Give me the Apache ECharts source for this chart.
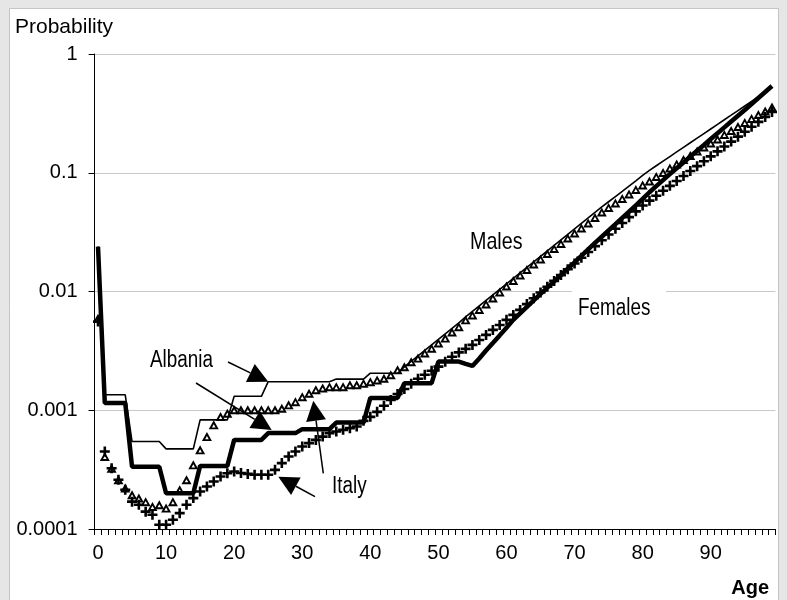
<!DOCTYPE html>
<html>
<head>
<meta charset="utf-8">
<script src="https://cdn.jsdelivr.net/npm/echarts@6/dist/echarts.min.js"></script>
<style>
html,body{margin:0;padding:0;background:#e6e6e6;}
#chart{width:787px;height:600px;}
</style>
</head>
<body>
<div id="chart"></div>
<script>
var ages = ['0','1','2','3','4','5','6','7','8','9','10','11','12','13','14','15','16','17','18','19',
'20','21','22','23','24','25','26','27','28','29','30','31','32','33','34','35','36','37','38','39',
'40','41','42','43','44','45','46','47','48','49','50','51','52','53','54','55','56','57','58','59',
'60','61','62','63','64','65','66','67','68','69','70','71','72','73','74','75','76','77','78','79',
'80','81','82','83','84','85','86','87','88','89','90','91','92','93','94','95','96','97','98','99'];

var yTickLabels = ['0.0001','0.001','0.01','0.1','1'];

// Albania, males (thin line)
var albaniaMales = [0.0239,
0.00135,0.00135,0.00135,0.00135,
0.000545,0.000545,0.000545,0.000545,0.000545,
0.000473,0.000473,0.000473,0.000473,0.000473,
0.00083,0.00083,0.00083,0.00083,0.00083,
0.00131,0.00131,0.00131,0.00131,0.00131,
0.00174,0.00174,0.00174,0.00174,0.00174,0.00174,0.00174,0.00174,0.00174,0.00174,
0.00183,0.00183,0.00183,0.00183,0.00183,
0.00205,0.00205,0.00205,0.00205,0.00205,
0.00232,0.00258,0.00287,0.00319,0.00355,0.00395,0.00440,0.00489,0.00544,0.00611,
0.00680,0.00757,0.00842,0.00936,0.01042,0.01159,0.01289,0.01434,0.01595,0.01775,
0.01975,0.02197,0.02443,0.02719,0.03024,0.03365,0.03743,0.04164,0.04632,0.05153,
0.0570,0.06306,0.06973,0.07713,0.08531,0.09491,0.1046,0.1145,0.1252,0.1369,
0.1497,0.1636,0.1788,0.1955,0.2138,0.2337,0.2555,0.2793,0.3053,0.3339,
0.365,0.399,0.4362,0.477,0.5214];

// Albania, females (thick line)
var albaniaFemales = [0.0239,
0.00115,0.00115,0.00115,0.00115,
0.000334,0.000334,0.000334,0.000334,0.000334,
0.000200,0.000200,0.000200,0.000200,0.000200,
0.000340,0.000340,0.000340,0.000340,0.000340,
0.000563,0.000563,0.000563,0.000563,0.000563,
0.000642,0.000642,0.000642,0.000642,0.000642,
0.000693,0.000693,0.000693,0.000693,0.000693,
0.000788,0.000788,0.000788,0.000788,0.000788,
0.00127,0.00127,0.00127,0.00127,0.00127,
0.00169,0.00169,0.00169,0.00169,0.00169,
0.00257,0.00257,0.00257,0.00257,0.00246,0.00236,
0.00273,0.00318,0.00368,0.00427,0.00496,0.00577,0.00654,0.00742,0.00842,0.00955,
0.01077,0.01216,0.01374,0.01555,0.01758,0.01994,0.02262,0.02566,0.02892,0.03268,
0.03686,0.04164,0.04695,0.05306,0.06018,0.06853,0.07713,0.08664,0.09732,0.1091,
0.1221,0.1369,0.1532,0.1714,0.1925,0.2154,0.2411,0.2698,0.3018,0.3378,
0.3794,0.4262,0.4787,0.5378];

// Italy, males (triangles)
var italyMales = [0.00596,0.000408,0.000325,0.000260,0.000221,0.000194,0.000182,0.000170,0.000155,0.000160,
0.000150,0.000170,0.000214,0.000260,0.000347,0.000464,0.000600,0.000754,0.000885,0.000945,
0.00101,0.00101,0.00101,0.00101,0.00101,0.00101,0.00101,0.00104,0.00111,0.00118,
0.00130,0.00139,0.00149,0.00154,0.00158,0.00158,0.00158,0.00164,0.00164,0.00169,
0.00174,0.00180,0.00186,0.00199,0.00219,0.00233,0.00256,0.00275,0.00304,0.00333,
0.00369,0.00405,0.00457,0.00506,0.00577,0.00635,0.00707,0.00786,0.00883,0.00992,
0.01115,0.0124,0.0138,0.01535,0.01708,0.01881,0.02093,0.02305,0.0254,0.02826,
0.03113,0.0343,0.03779,0.04204,0.04677,0.05104,0.0557,0.06077,0.06631,0.07235,
0.07895,0.08531,0.09309,0.1006,0.1098,0.1186,0.1294,0.1398,0.1526,0.1649,
0.1781,0.1925,0.2101,0.227,0.2453,0.2651,0.2865,0.3095,0.3313,0.358];

// Italy, females (plus signs)
var italyFemales = [0.00558,0.000449,0.000325,0.000260,0.000214,0.000170,0.000160,0.000140,0.000132,0.0001085,
0.0001085,0.0001195,0.000136,0.000160,0.000182,0.000207,0.000228,0.000251,0.000277,0.000295,
0.000305,0.000296,0.000291,0.000286,0.000286,0.000286,0.000315,0.000359,0.000408,0.000449,
0.000495,0.000529,0.000563,0.000600,0.000642,0.000662,0.000684,0.000707,0.000729,0.000814,
0.000880,0.000969,0.00109,0.00122,0.00137,0.00151,0.00167,0.00184,0.00199,0.00215,
0.00233,0.00256,0.00282,0.00307,0.00329,0.00355,0.00391,0.00431,0.00475,0.00523,
0.00577,0.00635,0.0070,0.00783,0.00877,0.00981,0.01098,0.01228,0.01374,0.01538,
0.01721,0.01925,0.02154,0.02411,0.02698,0.03018,0.03378,0.03779,0.04229,0.04732,
0.05296,0.05824,0.06403,0.07056,0.07757,0.08531,0.09399,0.1034,0.1137,0.125,
0.1374,0.1514,0.1665,0.183,0.2013,0.2214,0.2439,0.2682,0.2949,0.3249];

var FONT = "'Liberation Sans', Arial, sans-serif";
var PLUS = 'path://M3.7,0h2.6v3.7h3.7v2.6h-3.7v3.7h-2.6v-3.7h-3.7v-2.6h3.7z';
var TRI = 'path://M5,0.5L9.5,8.5H0.5Z M5,3.97L3.41,6.8H6.59Z';

function arrow(x0, y0, x1, y1) {
  var dx = x1 - x0, dy = y1 - y0, len = Math.sqrt(dx*dx + dy*dy);
  var ux = dx/len, uy = dy/len, hl = 20, hw = 10;
  var bx = x1 - ux*hl, by = y1 - uy*hl;
  return [
    {type:'line', z:20, shape:{x1:x0, y1:y0, x2:bx, y2:by}, style:{stroke:'#000', lineWidth:1.5}},
    {type:'polygon', z:20, shape:{points:[[x1,y1],[bx - uy*hw, by + ux*hw],[bx + uy*hw, by - ux*hw]]}, style:{fill:'#000'}}
  ];
}

function narrowText(x, y, text, size) {
  return {type:'text', z:20, x:x, y:y, scaleX:0.82, scaleY:1,
    style:{x:0, y:0, text:text, font:size + 'px ' + FONT, fill:'#000', textVerticalAlign:'middle'}};
}

var chart = echarts.init(document.getElementById('chart'), null, {renderer:'canvas'});

var graphics = [
  {type:'rect', z:-100, silent:true, shape:{x:9.5, y:8.5, width:769, height:620}, style:{fill:'#ffffff', stroke:'#c4c4c4', lineWidth:1}},
  {type:'text', z:20, style:{x:15, y:27, text:'Probability', font:'21px ' + FONT, fill:'#000', textVerticalAlign:'middle'}},
  {type:'text', z:20, style:{x:769, y:588, text:'Age', font:'bold 20px ' + FONT, fill:'#000', textAlign:'right', textVerticalAlign:'middle'}},
  {type:'rect', z:1, shape:{x:572, y:284, width:94, height:40}, style:{fill:'#ffffff'}},
  narrowText(150, 360.5, 'Albania', 23),
  narrowText(332, 486.5, 'Italy', 23),
  narrowText(470, 242.5, 'Males', 24),
  narrowText(578, 308.5, 'Females', 23)
].concat(arrow(228, 362, 268.3, 381.7))
 .concat(arrow(196, 383, 271.7, 430))
 .concat(arrow(323.3, 473.3, 313.3, 400.7))
 .concat(arrow(315, 496.7, 278.3, 476.7));

chart.setOption({
  animation:false,
  backgroundColor:'#e6e6e6',
  grid:{left:94.6, right:11.6, top:54, bottom:71, containLabel:false},
  xAxis:{
    type:'category', data:ages, boundaryGap:true,
    axisLine:{lineStyle:{color:'#000', width:1}},
    axisTick:{show:true, interval:0, length:6, lineStyle:{color:'#000'}},
    axisLabel:{interval:function(i){return i % 10 === 0;}, color:'#000', fontSize:20, fontFamily:FONT, margin:14},
    splitLine:{show:false}
  },
  yAxis:{
    type:'log', logBase:10, min:0.0001, max:1,
    axisLine:{show:true, lineStyle:{color:'#000', width:1}},
    axisTick:{show:true, length:6, lineStyle:{color:'#000'}},
    axisLabel:{color:'#000', fontSize:20, fontFamily:FONT, margin:17,
      formatter:function(v){var k = Math.round(Math.log(v)/Math.LN10) + 4; return yTickLabels[k] || '';}},
    splitLine:{show:true, lineStyle:{color:'#c8c8c8', width:1}},
    minorTick:{show:false}
  },
  graphic:graphics,
  series:[
    {name:'Albania males', type:'line', data:albaniaMales, symbol:'none', lineStyle:{color:'#000', width:1.6}, z:3},
    {name:'Albania females', type:'line', data:albaniaFemales, symbol:'none', lineStyle:{color:'#000', width:4.5}, z:3},
    {name:'Italy males', type:'scatter', data:italyMales, symbol:TRI, symbolSize:[10,9],
      itemStyle:{color:'#000', opacity:1}, z:4},
    {name:'Italy females', type:'scatter', data:italyFemales, symbol:PLUS, symbolSize:10,
      itemStyle:{color:'#000', opacity:1}, z:4}
  ]
});
</script>
</body>
</html>
